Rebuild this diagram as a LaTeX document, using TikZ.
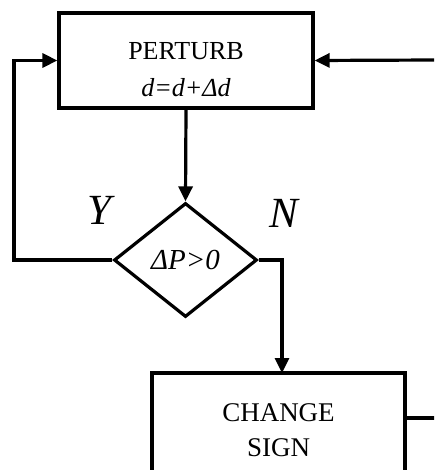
\documentclass[tikz,border=0pt]{standalone}
\usepackage{fontspec}
\setmainfont{Liberation Serif}
\usetikzlibrary{arrows.meta,shapes.geometric}
\begin{document}
\begin{tikzpicture}[x=1pt,y=-1pt,
  flow/.style={draw, line width=3.2pt},
  arr/.style={-{Triangle[length=15pt,width=14pt]}, line width=3.2pt},
  box/.style={draw, line width=3.2pt, rectangle, inner sep=0pt, align=center},
  dec/.style={draw, line width=3.2pt, diamond, inner sep=0pt, aspect=1.25, minimum width=143pt, minimum height=114pt, font=\fontsize{29}{32}\selectfont\itshape},
  lab/.style={font=\fontsize{43}{46}\selectfont\itshape}]
\useasboundingbox (0,0) rectangle (434,470);
\clip (0,0) rectangle (434,470);
\node[box, minimum width=254pt, minimum height=95pt, font=\fontsize{26}{37}\selectfont] (perturb) at (186,60.5) {\rule{0pt}{35pt}PERTURB\\ \itshape d=d+Δd};
\node[dec] (cond) at (185.5,260) {ΔP>0};
\node[box, minimum width=253pt, minimum height=114pt, font=\fontsize{27}{35}\selectfont] (change) at (278.5,430) {CHANGE\\ SIGN};
\node[lab] (ylab) at (99,210) {Y};
\node[lab] (nlab) at (284,213) {N};
\coordinate (rin) at (436,60);
\coordinate (rout) at (436,418);
\draw[arr] (perturb.south) -- (cond.north);
\draw[arr] (cond.west) -- (14,260) |- (perturb.west);
\draw[arr] (cond.east) -- (282,260) -- (282,373);
\draw[arr] (rin) -- (perturb.east);
\draw[flow] (change.east |- rout) -- (rout);
\end{tikzpicture}
\end{document}
